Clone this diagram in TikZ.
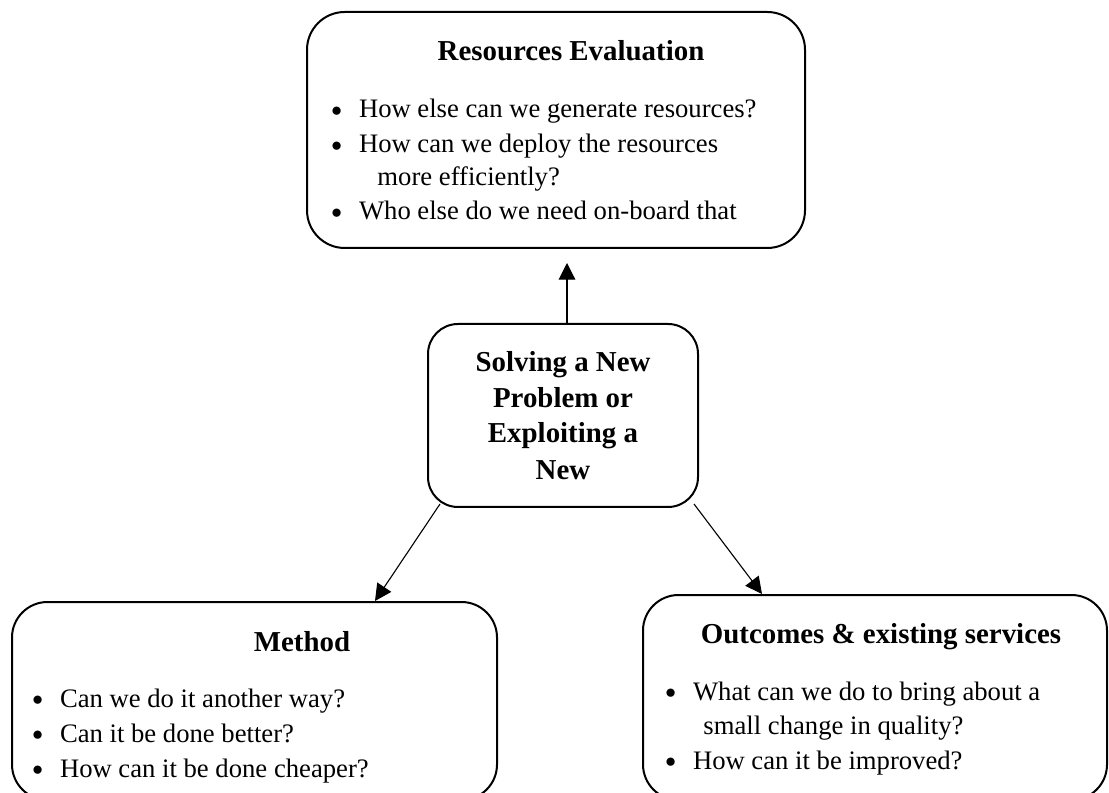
\documentclass[tikz,border=0pt]{standalone}
\usepackage{fontspec}
\setmainfont{Liberation Serif}
\usetikzlibrary{arrows.meta,fit}
\newcommand{\bul}{\makebox[12.4pt][l]{\raisebox{0.6pt}{\scalebox{0.8}{$\bullet$}}}}

\begin{document}
\begin{tikzpicture}[x=0.45pt, y=-0.45pt,
  box/.style={draw, line width=0.9pt, inner sep=0pt},
  head/.style={font=\fontsize{13}{16}\selectfont\bfseries, inner sep=0pt, anchor=base},
  item/.style={font=\fontsize{12}{15}\selectfont, inner sep=0pt, anchor=base west},
  link/.style={-{Triangle[length=7.5pt, width=7.5pt]}, line width=0.5pt}]

\path[use as bounding box, clip] (0,0) rectangle (1109,793);

\node[box, rounded corners=17pt, fit={(307,12) (805,248)}] (res) {};
\node[box, rounded corners=13.5pt, fit={(428,324) (698,507)}] (prob) {};
\node[box, rounded corners=16pt, fit={(12,602) (497,800)}] (meth) {};
\node[box, rounded corners=16pt, fit={(643,595) (1107,800)}] (outc) {};

\node[head] (resT) at (571,61) {Resources Evaluation};
\node[item] (res1) at (331,118) {\bul How else can we generate resources?};
\node[item] (res2) at (331,153) {\bul How can we deploy the resources};
\node[item] (res3) at (377,186) {more efficiently?};
\node[item] (res4) at (331,220) {\bul Who else do we need on-board that};

\node[head] (prob1) at (563,372) {Solving a New};
\node[head] (prob2) at (563,408) {Problem or};
\node[head] (prob3) at (563,443) {Exploiting a};
\node[head] (prob4) at (563,480) {New};

\node[head] (methT) at (302,651) {Method};
\node[item] (meth1) at (32,707) {\bul Can we do it another way?};
\node[item] (meth2) at (32,742) {\bul Can it be done better?};
\node[item] (meth3) at (32,777) {\bul How can it be done cheaper?};

\node[head] (outcT) at (881,643) {Outcomes \& existing services};
\node[item] (outc1) at (665,700) {\bul What can we do to bring about a};
\node[item] (outc2) at (703,734) {small change in quality?};
\node[item] (outc3) at (665,769) {\bul How can it be improved?};

\coordinate (upend) at (567,263);
\coordinate (mb) at (375,0);
\coordinate (ob) at (762,0);
\draw[link] (prob.north -| upend) -- (upend);
\draw[link] ([shift={(13,-4)}]prob.south west) -- (meth.north -| mb);
\draw[link] ([shift={(-5,-4)}]prob.south east) -- (outc.north -| ob);

\end{tikzpicture}
\end{document}
